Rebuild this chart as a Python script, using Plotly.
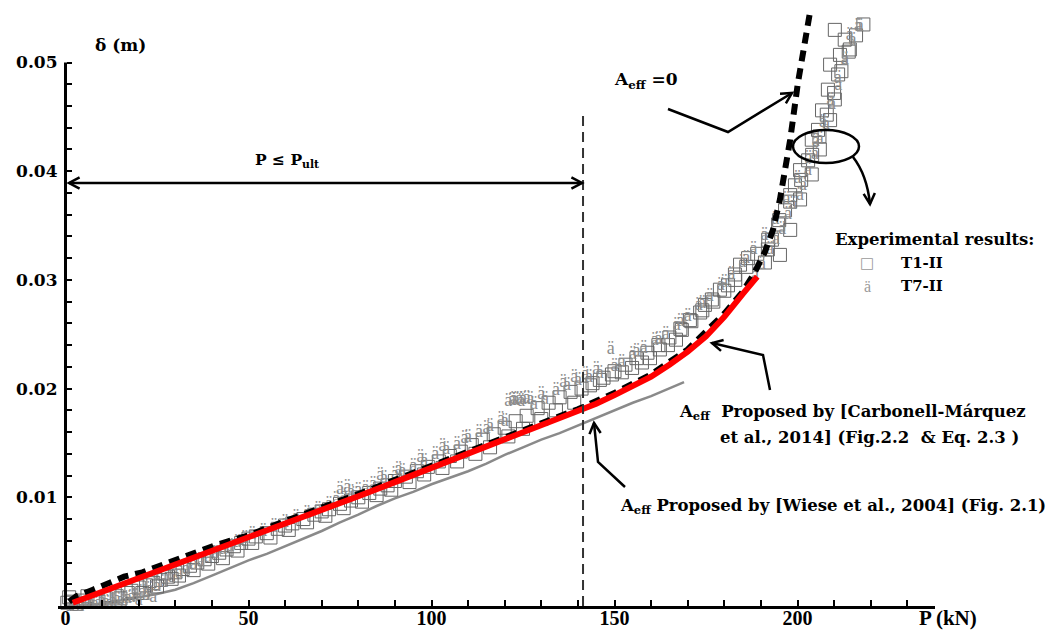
import math
import plotly.graph_objects as go

# ---------------- data ----------------
P_wiese = [0, 5, 10, 15, 20, 25, 30, 35, 40, 45, 50, 55, 60, 65, 70, 75, 80, 85, 90, 95, 100,
           105, 110, 115, 120, 125, 130, 135, 140, 145, 150, 155, 160, 165, 169]
d_wiese = [0.0000, 0.0001, 0.0002, 0.0005, 0.0008, 0.0011, 0.0015, 0.0021, 0.0028, 0.0035, 0.0042,
           0.0048, 0.0055, 0.0062, 0.0069, 0.0077, 0.0084, 0.0092, 0.0099, 0.0105, 0.0112,
           0.0118, 0.0124, 0.0131, 0.0139, 0.0146, 0.0153, 0.0159, 0.0166, 0.0173, 0.0180,
           0.0187, 0.0193, 0.0200, 0.0206]

P_carb = [2, 10, 20, 30, 40, 50, 60, 70, 80, 90, 100, 110, 120, 130, 140, 145, 150, 155, 160,
          165, 170, 175, 180, 185, 189]
d_carb = [0.0003, 0.0013, 0.0025, 0.0038, 0.0051, 0.0063, 0.0076, 0.0088, 0.0101, 0.0114, 0.0127,
          0.0140, 0.0153, 0.0166, 0.0179, 0.0186, 0.0194, 0.0202, 0.0211, 0.0222, 0.0234, 0.0248,
          0.0266, 0.0287, 0.0303]

P_a0 = [1, 3, 7.5, 12, 16, 21, 25, 29, 33, 37, 41, 46, 50, 60, 70, 80, 90, 100, 110, 120, 130,
        140, 150, 160, 170, 180, 185, 188, 191, 193.3, 195.2, 198, 200.1, 202, 203.6]
d_a0 = [0.0004, 0.0009, 0.0015, 0.0021, 0.0027, 0.0031, 0.0036, 0.0042, 0.0047, 0.0052, 0.0056,
        0.0061, 0.0065, 0.0078, 0.0090, 0.0103, 0.0116, 0.0129, 0.0142, 0.0155, 0.0168, 0.0181,
        0.0196, 0.0213, 0.0236, 0.0269, 0.0289, 0.0305, 0.0325, 0.0346, 0.0374, 0.0429, 0.0481,
        0.0521, 0.0550]

# Test T1-II (open squares)
P_t1 = [0.5, 2, 5, 8, 11, 14, 17, 20, 22, 24, 26, 28, 30, 32, 34, 36, 38, 40, 42, 44, 46, 48,
        50, 52, 55, 58, 60, 62, 65, 68, 70, 72, 75, 78, 80, 83, 86, 88, 90, 93, 96, 99, 102, 105,
        108, 111, 114, 117, 120, 123, 126, 129, 132, 135, 138, 141, 144, 147, 150, 153, 156,
        159, 162, 165, 168, 171, 174, 177, 180, 183, 186, 189, 192, 195, 198, 201, 204, 206,
        208, 210, 212, 214, 216, 218,
        1, 3, 6, 9, 12, 15, 18, 21, 23, 25, 27, 29,
        31, 35, 39, 43, 47, 51, 56, 61, 66, 71, 76, 81, 85, 89, 94, 98, 103, 107, 112, 116, 121,
        125, 130, 134, 139,
        143.3, 146.0, 149.3, 152.0, 154.8, 157.5, 159.7, 162.4, 164.6, 166.8, 168.4, 170.6, 173.4,
        174.7, 176.6, 178.8, 181.0, 182.9, 184.3, 186.5,
        191.1, 195.2, 191.9, 193.0, 198.0, 194.7, 196.6, 200.7, 198.0, 199.3, 203.9, 200.7, 202.9,
        206.1, 203.9, 205.6, 208.9, 206.7, 210.2, 208.3, 211.1, 208.9, 214.3, 211.6, 212.9, 210.2]
d_t1 = [0.0003, 0.0004, 0.0005, 0.0006, 0.0007, 0.0009, 0.0012, 0.0017, 0.0019, 0.0021, 0.0024,
        0.0027, 0.0031, 0.0034, 0.0037, 0.0040, 0.0043, 0.0046, 0.0049, 0.0052, 0.0055, 0.0058,
        0.0062, 0.0064, 0.0067, 0.0071, 0.0074, 0.0076, 0.0080, 0.0084, 0.0087, 0.0089, 0.0094,
        0.0097, 0.0100, 0.0104, 0.0108, 0.0111, 0.0115, 0.0119, 0.0124, 0.0128, 0.0133, 0.0138,
        0.0142, 0.0148, 0.0153, 0.0158, 0.0164, 0.0170, 0.0175, 0.0182, 0.0187, 0.0192, 0.0197,
        0.0200, 0.0205, 0.0210, 0.0216, 0.0222, 0.0228, 0.0233, 0.0240, 0.0247, 0.0255, 0.0262,
        0.0272, 0.0280, 0.0290, 0.0300, 0.0312, 0.0324, 0.0337, 0.0355, 0.0372, 0.0392, 0.0415,
        0.0432, 0.0452, 0.0472, 0.0492, 0.0510, 0.0525, 0.0535,
        0.0008, 0.0002, 0.0009, 0.0004, 0.0010, 0.0007, 0.0014, 0.0012, 0.0023, 0.0018, 0.0030,
        0.0025,
        0.0028, 0.0033, 0.0039, 0.0044, 0.0051, 0.0058, 0.0063, 0.0070, 0.0077, 0.0083, 0.0090,
        0.0096, 0.0102, 0.0107, 0.0114, 0.0121, 0.0127, 0.0133, 0.0140, 0.0146, 0.0156, 0.0163,
        0.0172, 0.0180, 0.0187,
        0.0203, 0.0208, 0.0213, 0.0215, 0.0219, 0.0224, 0.0228, 0.0236, 0.0240, 0.0245, 0.0254,
        0.0263, 0.0270, 0.0277, 0.0282, 0.0291, 0.0295, 0.0305, 0.0314, 0.0320,
        0.0316, 0.0323, 0.0328, 0.0337, 0.0346, 0.0351, 0.0364, 0.0374, 0.0378, 0.0387, 0.0397,
        0.0401, 0.0410, 0.0420, 0.0429, 0.0438, 0.0447, 0.0456, 0.0466, 0.0475, 0.0489, 0.0498,
        0.0512, 0.0507, 0.0521, 0.0530]

# Test T7-II (drawn with the "ä" glyph)
P_t7 = [1, 3, 5, 7, 9, 11, 13, 15, 17, 19, 21, 23, 25, 27, 29, 31, 33, 35, 37, 39, 41, 43, 45,
        47, 49, 51, 54, 57, 60, 63, 66, 69, 72, 74, 76, 78, 80, 82, 84, 87, 90, 92, 95, 98, 101,
        104, 107, 110, 113, 116, 119, 121, 122, 123, 124, 125, 126, 128, 131, 134, 137, 140,
        143, 146, 149, 152, 155, 158, 161, 164, 167, 170, 173, 176, 179, 182, 185, 188, 191,
        194, 197, 200, 203, 205, 207, 209, 211, 213, 215, 217,
        2, 4, 6, 8, 10, 12, 14, 16, 18, 20, 22, 24,
        75, 77, 79, 86, 91, 97, 103, 109, 115, 120, 127, 124.5, 122.5, 130, 136, 139, 142, 145,
        150, 156, 162, 168, 174, 180, 186,
        188.4, 190.3, 192.5, 194.1, 195.8, 197.4, 198.8, 200.7, 201.5, 202.9, 204.8, 206.1, 207.8,
        209.4, 211.1, 212.9, 214.3, 216.5]
d_t7 = [0.0000, 0.0001, 0.0001, 0.0002, 0.0002, 0.0003, 0.0004, 0.0005, 0.0007, 0.0009, 0.0012,
        0.0015, 0.0018, 0.0022, 0.0026, 0.0030, 0.0034, 0.0038, 0.0041, 0.0045, 0.0048, 0.0052,
        0.0055, 0.0058, 0.0062, 0.0066, 0.0069, 0.0073, 0.0077, 0.0081, 0.0085, 0.0089, 0.0093,
        0.0098, 0.0102, 0.0104, 0.0106, 0.0108, 0.0112, 0.0117, 0.0121, 0.0124, 0.0128, 0.0133,
        0.0139, 0.0144, 0.0149, 0.0155, 0.0160, 0.0165, 0.0172, 0.0188, 0.0189, 0.0189, 0.0190,
        0.0190, 0.0191, 0.0185, 0.0190, 0.0198, 0.0203, 0.0207, 0.0210, 0.0214, 0.0236, 0.0224,
        0.0231, 0.0237, 0.0244, 0.0250, 0.0258, 0.0266, 0.0276, 0.0285, 0.0295, 0.0305, 0.0316,
        0.0328, 0.0341, 0.0356, 0.0374, 0.0393, 0.0412, 0.0427, 0.0445, 0.0465, 0.0485, 0.0503,
        0.0520, 0.0533,
        0.0002, 0.0000, 0.0003, 0.0001, 0.0004, 0.0002, 0.0006, 0.0003, 0.0008, 0.0005, 0.0010,
        0.0008,
        0.0107, 0.0109, 0.0103, 0.0120, 0.0126, 0.0137, 0.0147, 0.0154, 0.0163, 0.0170, 0.0190,
        0.0188, 0.0190, 0.0195, 0.0206, 0.0210, 0.0213, 0.0218, 0.0220, 0.0234, 0.0245, 0.0262,
        0.0278, 0.0298, 0.0320,
        0.0304, 0.0314, 0.0328, 0.0337, 0.0346, 0.0360, 0.0369, 0.0378, 0.0387, 0.0401, 0.0415,
        0.0429, 0.0443, 0.0461, 0.0479, 0.0502, 0.0525, 0.0533]

P_ULT = 141.4
x_tickvals = [0, 50, 100, 150, 200]
x_ticktext = ["0", "50", "100", "150", "200"]
y_tickvals = [0.01, 0.02, 0.03, 0.04, 0.05]
y_ticktext = ["0.01", "0.02", "0.03", "0.04", "0.05"]
y_minorvals = [round(0.002 * i, 3) for i in range(1, 25)]

# ---------------- layout geometry (screen pixels) ----------------
OFF = 8                                   # page body margin
W, H = 1059 - 2 * OFF, 638 - 2 * OFF      # figure size
L_s, R_s, B_s = 58, 935, 606              # plot area edges on screen
T_s = OFF
PX_PER_KN = 3.66
PX_PER_M = 10870.0
X0 = -2.05
X1 = X0 + (R_s - L_s) / PX_PER_KN
Y0, Y1 = 0.0, (B_s - T_s) / PX_PER_M

SERIF = "DejaVu Serif"
TIMES = "Liberation Serif"


def xp(x):
    return (x - L_s) / (R_s - L_s)


def yp(y):
    return (B_s - y) / (B_s - T_s)


def path(points):
    return "M " + " L ".join(f"{xp(x):.5f},{yp(y):.5f}" for x, y in points)


def chevron(tip, frm, length=12, ang=28):
    dx, dy = tip[0] - frm[0], tip[1] - frm[1]
    n = math.hypot(dx, dy)
    vx, vy = -dx / n, -dy / n
    arms = []
    for s in (1, -1):
        a = math.radians(ang * s)
        rx = vx * math.cos(a) - vy * math.sin(a)
        ry = vx * math.sin(a) + vy * math.cos(a)
        arms.append((tip[0] + rx * length, tip[1] + ry * length))
    return path([arms[0], tip, arms[1]])


fig = go.Figure()

fig.add_trace(go.Scatter(x=P_wiese, y=d_wiese, mode="lines",
                         line=dict(color="#8a8a8a", width=2.5), showlegend=False))
fig.add_trace(go.Scatter(x=P_t1, y=d_t1, mode="markers", cliponaxis=False,
                         marker=dict(symbol="square-open", size=13, color="#666666",
                                     line=dict(width=1, color="#666666")),
                         showlegend=False))
fig.add_trace(go.Scatter(x=P_t7, y=d_t7, mode="text", text=["ä"] * len(P_t7), cliponaxis=False,
                         textfont=dict(color="#8c8c8c", size=18, family=TIMES),
                         showlegend=False))
fig.add_trace(go.Scatter(x=P_a0, y=d_a0, mode="lines",
                         line=dict(color="black", width=6, dash="11px,7px"), showlegend=False))
fig.add_trace(go.Scatter(x=P_carb, y=d_carb, mode="lines",
                         line=dict(color="#ff0000", width=6), showlegend=False))

shapes = []
# y axis line
shapes.append(dict(type="line", xref="x", yref="y", x0=0, x1=0, y0=0, y1=0.0500,
                   line=dict(color="black", width=3)))
# P_ult vertical dashed line
shapes.append(dict(type="line", xref="x", yref="y", x0=P_ULT, x1=P_ULT, y0=0, y1=0.0456,
                   line=dict(color="#333333", width=2, dash="10px,6px")))
black = dict(color="black", width=2.5)
# double arrow P <= P_ult
shapes.append(dict(type="path", xref="paper", yref="paper", path=path([(69, 183), (582, 183)]), line=black))
shapes.append(dict(type="path", xref="paper", yref="paper", path=chevron((69, 183), (100, 183)), line=black))
shapes.append(dict(type="path", xref="paper", yref="paper", path=chevron((582, 183), (550, 183)), line=black))
# A_eff = 0 arrow
shapes.append(dict(type="path", xref="paper", yref="paper",
                   path=path([(668, 109), (728, 132), (792, 93)]), line=black))
shapes.append(dict(type="path", xref="paper", yref="paper", path=chevron((792, 93), (728, 132)), line=black))
# ellipse + curved arrow
shapes.append(dict(type="circle", xref="paper", yref="paper",
                   x0=xp(793), x1=xp(859), y0=yp(163), y1=yp(130), line=black))
shapes.append(dict(type="path", xref="paper", yref="paper",
                   path=f"M {xp(853):.5f},{yp(157):.5f} Q {xp(867):.5f},{yp(175):.5f} {xp(870):.5f},{yp(204):.5f}",
                   line=black))
shapes.append(dict(type="path", xref="paper", yref="paper", path=chevron((870, 204), (869, 190)), line=black))
# Carbonell arrow
shapes.append(dict(type="path", xref="paper", yref="paper",
                   path=path([(770, 390), (763, 355), (712, 343)]), line=black))
shapes.append(dict(type="path", xref="paper", yref="paper", path=chevron((712, 343), (763, 355)), line=black))
# Wiese arrow
shapes.append(dict(type="path", xref="paper", yref="paper",
                   path=path([(625, 487), (598, 462), (594, 423)]), line=black))
shapes.append(dict(type="path", xref="paper", yref="paper", path=chevron((594, 423), (598, 462)), line=black))

annotations = []


def txt(x, y, s, size=16.5, anchor="left", color="black", bold=True, family=SERIF):
    annotations.append(dict(x=xp(x), y=yp(y), xref="paper", yref="paper", text=s, showarrow=False,
                            xanchor=anchor, yanchor="middle",
                            font=dict(family=family, size=size, color=color,
                                      weight="bold" if bold else "normal")))


txt(120, 45, "δ (m)", anchor="center", size=17)
txt(948, 618, "P (kN)", anchor="center", size=21, family=TIMES)
txt(612, 80, "A<sub>eff</sub> =0", size=17)
txt(253, 160, "P ≤ P<sub>ult</sub>", size=15.5)
txt(833, 240, "Experimental results:")
txt(867, 263, "□", anchor="center", color="#9a9a9a", bold=False, size=15)
txt(899, 263, "T1-II", size=15)
txt(867, 286, "ä", anchor="center", color="#9a9a9a", bold=False, size=16, family=TIMES)
txt(899, 286, "T7-II", size=15)
txt(677, 412, "A<sub>eff</sub>  Proposed by [Carbonell-Márquez")
txt(718, 437, "et al., 2014] (Fig.2.2  &amp; Eq. 2.3 )")
txt(618, 506, "A<sub>eff</sub> Proposed by [Wiese et al., 2004] (Fig. 2.1)")

fig.update_layout(
    width=W, height=H,
    margin=dict(l=L_s - OFF, r=W - (R_s - OFF), t=0, b=H - (B_s - OFF), autoexpand=False),
    paper_bgcolor="white", plot_bgcolor="white",
    showlegend=False,
    shapes=shapes, annotations=annotations,
    xaxis=dict(range=[X0, X1], showgrid=False, zeroline=False, automargin=False,
               showline=True, linecolor="black", linewidth=3,
               ticks="inside", ticklen=6, tickwidth=2, tickcolor="black",
               tickmode="array", tickvals=x_tickvals, ticktext=x_ticktext,
               ticklabelstandoff=-8,
               tickfont=dict(family=TIMES, size=20, color="black", weight="bold"),
               minor=dict(ticks="inside", dtick=10, tick0=0, ticklen=6, tickwidth=2, tickcolor="black")),
    yaxis=dict(range=[Y0, Y1], showgrid=False, zeroline=False, showline=False, automargin=False,
               anchor="free", position=(0 - X0) / (X1 - X0),
               ticks="inside", ticklen=5, tickwidth=2, tickcolor="black",
               tickmode="array", tickvals=y_tickvals, ticktext=y_ticktext,
               ticklabelstandoff=8,
               tickfont=dict(family=SERIF, size=17, color="black", weight="bold"),
               minor=dict(ticks="inside", tickmode="array", tickvals=y_minorvals,
                          ticklen=5, tickwidth=2, tickcolor="black")),
)

fig.write_html("out.html")
